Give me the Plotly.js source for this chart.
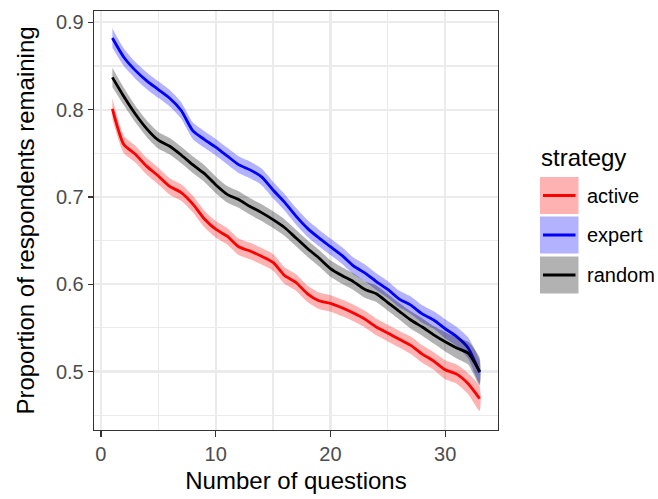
<!DOCTYPE html>
<html>
<head>
<meta charset="utf-8">
<script src="https://cdn.plot.ly/plotly-3.0.1.min.js"></script>
<style>html,body{margin:0;padding:0;background:#fff;}#chart{width:658px;height:499px;}</style>
</head>
<body>
<div id="chart"></div>
<script>
// ---- data ----
var questions = [1,2,3,4,5,6,7,8,9,10,11,12,13,14,15,16,17,18,19,20,21,22,23,24,25,26,27,28,29,30,31,32,33];
var strategies = ["active", "expert", "random"];
var activeVals = [0.801,0.760,0.749,0.735,0.724,0.712,0.705,0.692,0.675,0.663,0.655,0.643,0.638,0.632,0.625,0.610,0.602,0.589,0.581,0.578,0.573,0.567,0.560,0.551,0.544,0.537,0.530,0.520,0.512,0.502,0.497,0.486,0.469];
var expertVals = [0.882,0.860,0.845,0.833,0.823,0.813,0.799,0.776,0.766,0.757,0.747,0.737,0.731,0.723,0.708,0.694,0.678,0.664,0.653,0.643,0.633,0.621,0.613,0.603,0.594,0.583,0.576,0.566,0.559,0.549,0.540,0.527,0.499];
var randomVals = [0.837,0.815,0.795,0.778,0.765,0.758,0.748,0.737,0.727,0.714,0.703,0.697,0.689,0.682,0.674,0.665,0.653,0.641,0.630,0.618,0.610,0.603,0.594,0.589,0.579,0.569,0.559,0.551,0.542,0.534,0.527,0.521,0.500];
// confidence band half-widths
var activeCI = [0.012,0.010,0.0095,0.0095,0.0095,0.0095,0.0095,0.0095,0.0095,0.0095,0.0095,0.0095,0.0095,0.0095,0.0095,0.0095,0.0095,0.0095,0.0095,0.0095,0.0095,0.0095,0.0095,0.0095,0.0095,0.0095,0.010,0.010,0.010,0.011,0.011,0.012,0.014];
var expertCI = [0.011,0.010,0.0095,0.0095,0.0095,0.0095,0.0095,0.0095,0.0095,0.0095,0.0095,0.0095,0.0095,0.0095,0.0095,0.0095,0.0095,0.0095,0.0095,0.0095,0.0095,0.0095,0.0095,0.0095,0.0095,0.0095,0.010,0.010,0.010,0.011,0.011,0.012,0.013];
var randomCI = [0.011,0.010,0.0095,0.0095,0.0095,0.0095,0.0095,0.0095,0.0095,0.0095,0.0095,0.0095,0.0095,0.0095,0.0095,0.0095,0.0095,0.0095,0.0095,0.0095,0.0095,0.0095,0.0095,0.0095,0.0095,0.0095,0.010,0.010,0.010,0.011,0.012,0.013,0.016];
var xTicks = [0, 10, 20, 30];
var xTickText = ["0", "10", "20", "30"];
var yTicks = [0.5, 0.6, 0.7, 0.8, 0.9];
var yTickText = ["0.5", "0.6", "0.7", "0.8", "0.9"];

// ---- styles ----
var lineColors = {active: "#FF0000", expert: "#0000FF", random: "#000000"};
var bandColors = {active: "rgba(255,0,0,0.3)", expert: "rgba(0,0,255,0.3)", random: "rgba(0,0,0,0.3)"};
var seriesVals = {active: activeVals, expert: expertVals, random: randomVals};
var seriesCI = {active: activeCI, expert: expertCI, random: randomCI};

var traces = [];
strategies.forEach(function (s) {
  var v = seriesVals[s], ci = seriesCI[s];
  var upper = v.map(function (y, i) { return y + ci[i]; });
  var lower = v.map(function (y, i) { return y - ci[i]; });
  traces.push({
    x: questions.concat(questions.slice().reverse()),
    y: upper.concat(lower.slice().reverse()),
    type: "scatter", mode: "lines", fill: "toself",
    fillcolor: bandColors[s],
    line: {width: 0, color: "rgba(0,0,0,0)", shape: "spline", smoothing: 0.6},
    hoverinfo: "skip", showlegend: false
  });
  traces.push({
    x: questions, y: v, type: "scatter", mode: "lines", name: s,
    line: {color: lineColors[s], width: 2.8, shape: "spline", smoothing: 0.6},
    showlegend: false
  });
});

// pixel -> paper helpers (plot area: x 94..498, y 11..430)
function px(p) { return (p - 94) / 404; }
function py(p) { return (430 - p) / 419; }

var shapes = [], annotations = [];
annotations.push({
  xref: "paper", yref: "paper", x: px(539), y: py(158), xanchor: "left", yanchor: "middle",
  text: "strategy", showarrow: false, font: {family: "Liberation Sans, Arial, sans-serif", size: 24, color: "#000"}
});
var keyTops = [177, 216.5, 256.5];
strategies.forEach(function (s, i) {
  var t = keyTops[i];
  shapes.push({type: "rect", xref: "paper", yref: "paper", x0: px(540), x1: px(578.5), y0: py(t), y1: py(t + 37),
    fillcolor: bandColors[s], line: {width: 0}});
  shapes.push({type: "line", xref: "paper", yref: "paper", x0: px(543), x1: px(575.5), y0: py(t + 18.5), y1: py(t + 18.5),
    line: {color: lineColors[s], width: 2.8}});
  annotations.push({xref: "paper", yref: "paper", x: px(585), y: py(t + 18.5), xanchor: "left", yanchor: "middle",
    text: s, showarrow: false, font: {family: "Liberation Sans, Arial, sans-serif", size: 20, color: "#000"}});
});

var layout = {
  width: 658, height: 499,
  margin: {l: 94, r: 160, t: 11, b: 69, pad: 0},
  paper_bgcolor: "#fff", plot_bgcolor: "#fff",
  font: {family: "Liberation Sans, Arial, sans-serif"},
  showlegend: false,
  xaxis: {
    range: [-0.6, 34.6], tickvals: xTicks, ticktext: xTickText,
    showgrid: true, gridcolor: "#EBEBEB", gridwidth: 2.2,
    minor: {tick0: 0, dtick: 5, showgrid: true, gridcolor: "#EBEBEB", gridwidth: 1.1},
    zeroline: false, showline: true, mirror: true, linecolor: "#333333", linewidth: 1.3,
    ticks: "outside", ticklen: 6, tickwidth: 1.3, tickcolor: "#333333",
    tickfont: {size: 20, color: "#4D4D4D"},
    title: {text: "Number of questions", font: {size: 24, color: "#000"}, standoff: 8}
  },
  yaxis: {
    range: [0.433, 0.913], tickvals: yTicks, ticktext: yTickText,
    showgrid: true, gridcolor: "#EBEBEB", gridwidth: 2.2,
    minor: {tick0: 0.45, dtick: 0.05, showgrid: true, gridcolor: "#EBEBEB", gridwidth: 1.1},
    zeroline: false, showline: true, mirror: true, linecolor: "#333333", linewidth: 1.3,
    ticks: "outside", ticklen: 5, tickwidth: 1.3, tickcolor: "#333333",
    tickfont: {size: 20, color: "#4D4D4D"},
    title: {text: "Proportion of respondents remaining", font: {size: 24, color: "#000"}, standoff: 14}
  },
  shapes: shapes,
  annotations: annotations
};

Plotly.newPlot("chart", traces, layout, {displayModeBar: false, staticPlot: true});
</script>
</body>
</html>
